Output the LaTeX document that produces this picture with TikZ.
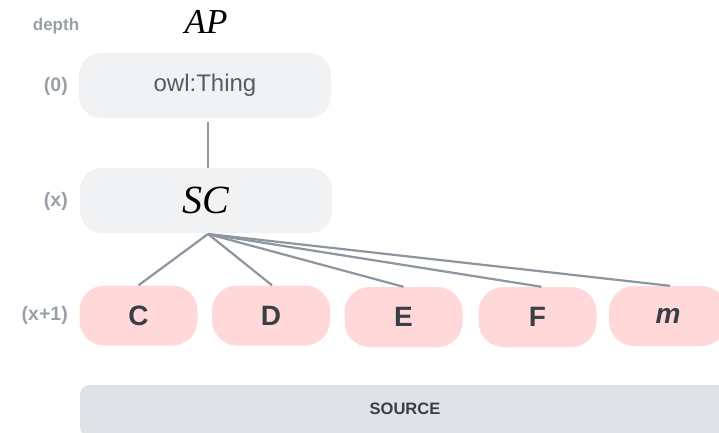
\documentclass[tikz,border=0pt]{standalone}
\usepackage{fontspec}
\setmainfont{Liberation Sans}
\newfontfamily\mathserif{Liberation Serif}
\definecolor{boxgray}{HTML}{F1F2F4}
\definecolor{boxpink}{HTML}{FFD9DA}
\definecolor{bargray}{HTML}{DFE2E6}
\definecolor{linkgray}{HTML}{8D959F}
\definecolor{labelgray}{HTML}{9AA0A9}
\definecolor{inkdark}{HTML}{3B3E44}
\begin{document}
\begin{tikzpicture}[x=1pt,y=-1pt,
  levelbox/.style={rectangle, rounded corners=22pt, fill=boxgray, draw=none,
    minimum width=252pt, minimum height=65pt, inner sep=0pt},
  classbox/.style={rectangle, rounded corners=25pt, fill=boxpink, draw=none,
    minimum width=118pt, minimum height=60pt, inner sep=0pt,
    text=inkdark, font=\fontsize{28}{30}\selectfont\bfseries},
  depthlabel/.style={text=labelgray, font=\fontsize{19.5}{21}\selectfont\bfseries, inner sep=0pt},
  link/.style={draw=linkgray, line width=2.2pt}]
\useasboundingbox (0,0) rectangle (719,433);

% depth column
\node[depthlabel, font=\fontsize{17}{19}\selectfont\bfseries] (hdepth) at (56,26) {depth};
\node[depthlabel, anchor=east] (d0) at (68,86) {(0)};
\node[depthlabel, anchor=east] (dx) at (68,201) {(x)};
\node[depthlabel, anchor=east] (dx1) at (68,315) {(x+1)};

% hierarchy
\node[inner sep=0pt] (ap) at (206,22) {\fontsize{35}{37}\selectfont\mathserif\itshape AP};
\node[levelbox, text=inkdark!85] (top) at (205,85.5) {\fontsize{24}{26}\selectfont owl:Thing};
\node[levelbox] (sc) at (206,200.5) {\fontsize{40}{42}\selectfont\mathserif\itshape SC};

\node[classbox] (c) at (138.5,315.5) {C};
\node[classbox] (d) at (271,315.5) {D};
\node[classbox] (e) at (403.5,317) {E};
\node[classbox] (f) at (537.5,317) {F};
\node[classbox] (m) at (668,316) {\itshape m};

% source bar
\node[rectangle, rounded corners=10pt, fill=bargray, minimum width=700pt,
  minimum height=52pt, inner sep=0pt] (src) at (430,411) {};
\node[text=inkdark, font=\fontsize{16.5}{18}\selectfont\bfseries] (srclabel) at (405,409) {SOURCE};

% connectors
\coordinate (up) at (208,122);
\coordinate (fan) at (208,234);
\draw[link] (up) -- (208,168);
\draw[link] (fan) -- (c.north);
\draw[link] (fan) -- ([xshift=1pt]d.north);
\draw[link] (fan) -- (e.north);
\draw[link] (fan) -- ([xshift=4pt]f.north);
\draw[link] (fan) -- ([xshift=2pt]m.north);
\end{tikzpicture}
\end{document}
